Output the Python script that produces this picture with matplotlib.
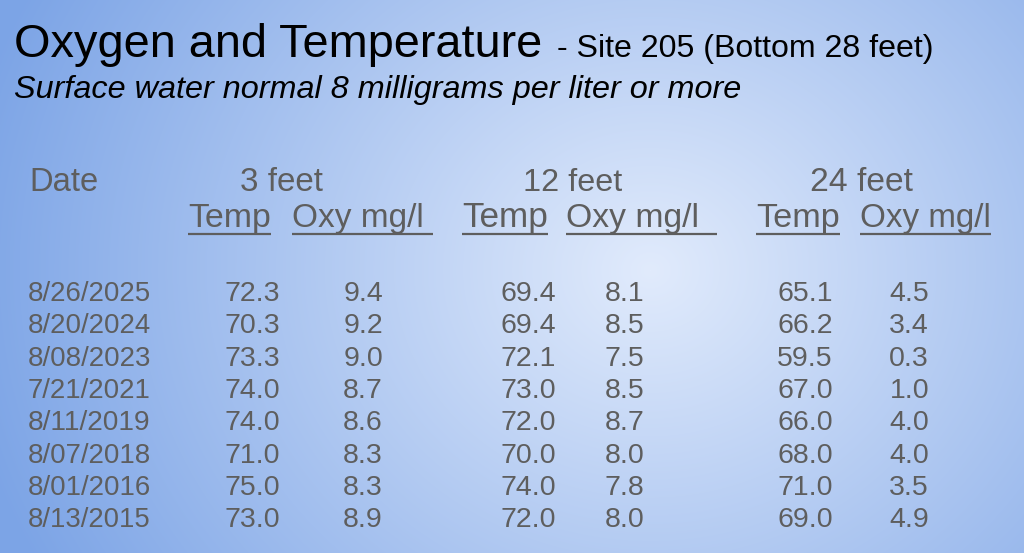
import numpy as np
import matplotlib
matplotlib.use("Agg")
import matplotlib.pyplot as plt
from matplotlib.colors import to_rgb
from matplotlib import font_manager

plt.rcParams['font.family'] = ['Liberation Sans', 'DejaVu Sans']

title_main = "Oxygen and Temperature"
title_sub = "- Site 205 (Bottom 28 feet)"
subtitle = "Surface water normal 8 milligrams per liter or more"
depths = ["3 feet", "12 feet", "24 feet"]
col_labels = ["Temp", "Oxy mg/l"]
dates = ["8/26/2025", "8/20/2024", "8/08/2023", "7/21/2021",
         "8/11/2019", "8/07/2018", "8/01/2016", "8/13/2015"]
temp_3 = [72.3, 70.3, 73.3, 74.0, 74.0, 71.0, 75.0, 73.0]
oxy_3 = [9.4, 9.2, 9.0, 8.7, 8.6, 8.3, 8.3, 8.9]
temp_12 = [69.4, 69.4, 72.1, 73.0, 72.0, 70.0, 74.0, 72.0]
oxy_12 = [8.1, 8.5, 7.5, 8.5, 8.7, 8.0, 7.8, 8.0]
temp_24 = [65.1, 66.2, 59.5, 67.0, 66.0, 68.0, 71.0, 69.0]
oxy_24 = [4.5, 3.4, 0.3, 1.0, 4.0, 4.0, 3.5, 4.9]

W, H = 1024, 553
fig = plt.figure(figsize=(W / 100, H / 100), dpi=100)
ax = fig.add_axes([0, 0, 1, 1])
ax.set_xlim(0, W)
ax.set_ylim(H, 0)
ax.axis('off')

# radial gradient background
yy, xx = np.mgrid[0:H, 0:W]
cx, cy = 650, 270
d = np.sqrt(((xx - cx) / 700.0) ** 2 + ((yy - cy) / 620.0) ** 2)
d = np.clip(d, 0, 1)
c0 = np.array(to_rgb('#e1ebfc'))
c1 = np.array(to_rgb('#7ca4e6'))
t = d[..., None]
img = c0 * (1 - t) + c1 * t
ax.imshow(img, extent=[0, W, H, 0], aspect='auto', zorder=0, interpolation='bilinear')

gray = '#5e5e5e'
fig.canvas.draw()
r = fig.canvas.get_renderer()

def txt(x, y, s, size, color=gray, ha='left', style='normal'):
    return ax.text(x, y, s, fontsize=size, color=color, ha=ha, va='baseline',
                   fontstyle=style, zorder=3)

def fit(x0, x1, y, s, size, **kw):
    t_ = txt(x0, y, s, size, **kw)
    w = t_.get_window_extent(renderer=r).width
    t_.set_fontsize(size * (x1 - x0) / w)
    return t_

# titles
fit(14, 542, 57, title_main, 34, color='black')
fit(557, 935, 57, title_sub, 23, color='black')
fit(14, 739, 98, subtitle, 22, color='black', style='italic')

# headers
fit(29, 98, 191, "Date", 23.5)
depth_x = [(240, 323), (523, 622), (810, 913)]
for (a, b), dlab in zip(depth_x, depths):
    fit(a, b, 191, dlab, 23.5)

sub_x = [(188, 271, 292, 424, 433), (462, 548, 566, 699, 717),
         (756, 840, 860, 991, 991)]
for tx0, tx1, ox0, ox1, oend in sub_x:
    fit(tx0, tx1, 227, col_labels[0], 23.5)
    fit(ox0, ox1, 227, col_labels[1], 23.5)
    ax.plot([tx0, tx1], [234, 234], color=gray, lw=1.6, zorder=3,
            solid_capstyle='butt')
    ax.plot([ox0, oend], [234, 234], color=gray, lw=1.6, zorder=3,
            solid_capstyle='butt')

# data rows
y0, dy = 301, 32.35
cols = [(temp_3, 280), (oxy_3, 383), (temp_12, 556), (oxy_12, 644),
        (temp_24, 833), (oxy_24, 929)]
for i, dt in enumerate(dates):
    y = y0 + i * dy
    fit(28, 151, y, dt, 20)
    for vals, xr in cols:
        txt(xr, y, f"{vals[i]:.1f}", 20.5, ha='right')

fig.savefig("out.png", dpi=100)
